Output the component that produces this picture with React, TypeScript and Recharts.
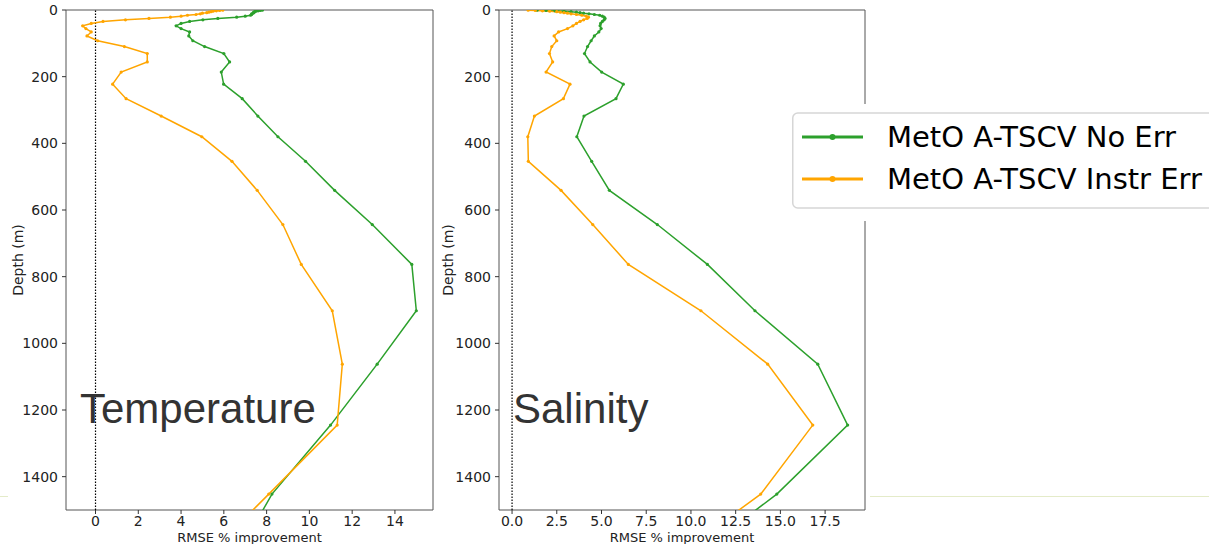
import { LineChart, Line, XAxis, YAxis, ReferenceLine, ReferenceArea, Label, Legend } from "recharts";

// model depth levels (m)
const depths = [
  0.5, 1.5, 2.6, 3.8, 5.1, 6.4, 7.9, 9.6, 11.4, 13.5, 15.8, 18.5, 21.6, 25.2, 29.4, 34.4, 40.3, 47.4, 55.8, 65.8,
  77.9, 92.3, 109.7, 130.7, 155.9, 186.1, 222.5, 266.0, 318.1, 380.2, 453.9, 541.1, 643.6, 763.3, 902.3, 1062.4,
  1245.3, 1452.3, 1684.3,
];

const tempNoErr = [
  7.8, 7.7, 7.6, 7.5, 7.45, 7.4, 7.4, 7.36, 7.3, 7.3, 7.25, 7.0, 6.6, 5.72, 5.02, 4.4, 4.0, 3.77, 4.0, 4.4,
  4.36, 4.55, 5.1, 6.0, 6.27, 5.88, 5.99, 6.86, 7.59, 8.53, 9.82, 11.18, 12.94, 14.79, 15.0, 13.17,
  10.99, 8.25, 6.2,
];
const tempInstrErr = [
  5.95, 5.8, 5.65, 5.5, 5.4, 5.3, 5.2, 5.0, 4.9, 4.7, 4.3, 4.0, 3.5, 2.5, 1.4, 0.35, -0.2, -0.6, -0.45, -0.2,
  -0.4, 0.1, 1.35, 2.42, 2.42, 1.2, 0.8, 1.43, 3.07, 4.97, 6.38, 7.56, 8.76, 9.62, 11.07, 11.54,
  11.3, 8.1, 4.5,
];

const salNoErr = [
  1.4, 1.9, 2.4, 2.9, 3.3, 3.6, 3.8, 4.0, 4.3, 4.6, 4.9, 5.05, 5.15, 5.2, 5.15, 5.05, 4.95, 4.92, 4.98, 4.85,
  4.6, 4.42, 4.22, 4.05, 4.36, 5.01, 6.22, 5.81, 4.02, 3.62, 4.45, 5.44, 8.12, 10.92, 13.58, 17.09,
  18.76, 14.8, 9.1,
];
const salInstrErr = [
  0.9, 1.3, 1.7, 2.1, 2.5, 2.7, 2.9, 3.1, 3.3, 3.6, 3.9, 4.15, 4.27, 4.2, 4.0, 3.8, 3.6, 3.4, 3.1, 2.6,
  2.35, 2.5, 2.22, 2.09, 2.27, 1.9, 3.24, 2.87, 1.25, 0.88, 0.91, 2.74, 4.51, 6.5, 10.56, 14.29,
  16.81, 13.9, 8.0,
];

const depthTicks = [0, 200, 400, 600, 800, 1000, 1200, 1400];
const tempTicks = [0, 2, 4, 6, 8, 10, 12, 14];
const salTicks = [0, 2.5, 5, 7.5, 10, 12.5, 15, 17.5];

const seriesNames = ["MetO A-TSCV No Err", "MetO A-TSCV Instr Err"];
const seriesColors = ["#2ca02c", "#ffa500"];

const FONT = "'DejaVu Sans', sans-serif";
const tickStyle = { fontSize: 14, fill: "#222", fontFamily: FONT };

type PanelProps = {
  values: [number[], number[]];
  xDomain: [number, number];
  xTicks: number[];
  fmt: (v: number) => string;
  yAxisWidth: number;
  width: number;
  marginRight: number;
  legend?: boolean;
};

function renderLegend() {
  return (
    <svg width={440} height={117} style={{ display: "block" }}>
      <rect x={0} y={0} width={440} height={117} fill="#fff" />
      <rect x={0.75} y={9} width={436} height={95} rx={5} fill="#fff" stroke="#d6d6d6" strokeWidth={1.5} />
      {seriesNames.map((name, i) => (
        <g key={name}>
          <line x1={10} x2={71} y1={33 + i * 42} y2={33 + i * 42} stroke={seriesColors[i]} strokeWidth={3} />
          <circle cx={40.5} cy={33 + i * 42} r={3} fill={seriesColors[i]} />
          <text x={95} y={33 + i * 42} dominantBaseline="central" fontSize={29} fontFamily={FONT} fill="#000">
            {name}
          </text>
        </g>
      ))}
    </svg>
  );
}

function Panel({ values, xDomain, xTicks, fmt, yAxisWidth, width, marginRight, legend }: PanelProps) {
  const data = depths.map((d, i) => ({ depth: d, noErr: values[0][i], instrErr: values[1][i] }));
  return (
    <LineChart
      layout="vertical"
      width={width}
      height={544}
      data={data}
      margin={{ top: 10, right: marginRight, bottom: 0, left: 0 }}
    >
      <XAxis
        type="number"
        dataKey=""
        domain={xDomain}
        allowDataOverflow
        ticks={xTicks}
        tickFormatter={fmt}
        tick={tickStyle}
        tickSize={4}
        tickMargin={2}
        tickLine={{ stroke: "#333" }}
        axisLine={false}
        height={34}
      >
        <Label
          content={({ viewBox }: any) => (
            <text
              x={viewBox.x + viewBox.width / 2}
              y={537}
              textAnchor="middle"
              dominantBaseline="central"
              fontSize={13}
              fontFamily={FONT}
              fill="#222"
            >
              RMSE % improvement
            </text>
          )}
        />
      </XAxis>
      <YAxis
        type="number"
        dataKey="depth"
        domain={[0, 1500]}
        allowDataOverflow
        ticks={depthTicks}
        tick={tickStyle}
        tickSize={4}
        tickMargin={4}
        tickLine={{ stroke: "#333" }}
        axisLine={false}
        width={yAxisWidth}
      >
        <Label
          content={() => (
            <text
              x={18}
              y={260}
              transform="rotate(-90 18 260)"
              textAnchor="middle"
              dominantBaseline="central"
              fontSize={14}
              fontFamily={FONT}
              fill="#222"
            >
              Depth (m)
            </text>
          )}
        />
      </YAxis>
      <ReferenceArea
        x1={xDomain[0]}
        x2={xDomain[1]}
        y1={0}
        y2={1500}
        fill="none"
        stroke="#555"
        strokeWidth={1}
        ifOverflow="visible"
      />
      <ReferenceLine x={0} stroke="#000" strokeWidth={1.2} strokeDasharray="1.5 1.5" />
      <Line
        dataKey="noErr"
        name={seriesNames[0]}
        stroke={seriesColors[0]}
        strokeWidth={1.5}
        dot={{ r: 1.6, fill: seriesColors[0], stroke: "none" }}
        isAnimationActive={false}
      />
      <Line
        dataKey="instrErr"
        name={seriesNames[1]}
        stroke={seriesColors[1]}
        strokeWidth={1.5}
        dot={{ r: 1.6, fill: seriesColors[1], stroke: "none" }}
        isAnimationActive={false}
      />
      {legend && (
        <Legend
          layout="vertical"
          align="center"
          verticalAlign="middle"
          content={renderLegend}
          wrapperStyle={{ left: 362, top: 104, width: 440, height: 117 }}
        />
      )}
    </LineChart>
  );
}

export default function App() {
  return (
    <div
      style={{
        position: "absolute",
        left: 0,
        top: 0,
        width: 1209,
        height: 544,
        overflow: "hidden",
        background: "#fff",
      }}
    >
      <div style={{ position: "absolute", left: 0, top: 0 }}>
        <Panel
          values={[tempNoErr, tempInstrErr]}
          xDomain={[-1.38, 15.78]}
          xTicks={tempTicks}
          fmt={(v) => String(v)}
          yAxisWidth={66}
          width={440}
          marginRight={7}
        />
      </div>
      <div style={{ position: "absolute", left: 430, top: 0 }}>
        <Panel
          values={[salNoErr, salInstrErr]}
          xDomain={[-0.73, 19.73]}
          xTicks={salTicks}
          fmt={(v) => v.toFixed(1)}
          yAxisWidth={69}
          width={779}
          marginRight={344}
          legend
        />
      </div>
      <div style={{ position: "absolute", left: 0, top: 496, width: 8, height: 1, background: "#e4ebc9" }} />
      <div style={{ position: "absolute", left: 870, top: 496, width: 339, height: 1, background: "#e4ebc9" }} />
      <svg
        width={1209}
        height={544}
        style={{ position: "absolute", left: 0, top: 0, pointerEvents: "none" }}
      >
        <text x={80} y={423} fontSize={42} fontFamily="'Liberation Sans', Arial, sans-serif" fill="#333">
          Temperature
        </text>
        <text x={513} y={423} fontSize={42} fontFamily="'Liberation Sans', Arial, sans-serif" fill="#333">
          Salinity
        </text>
      </svg>
    </div>
  );
}
